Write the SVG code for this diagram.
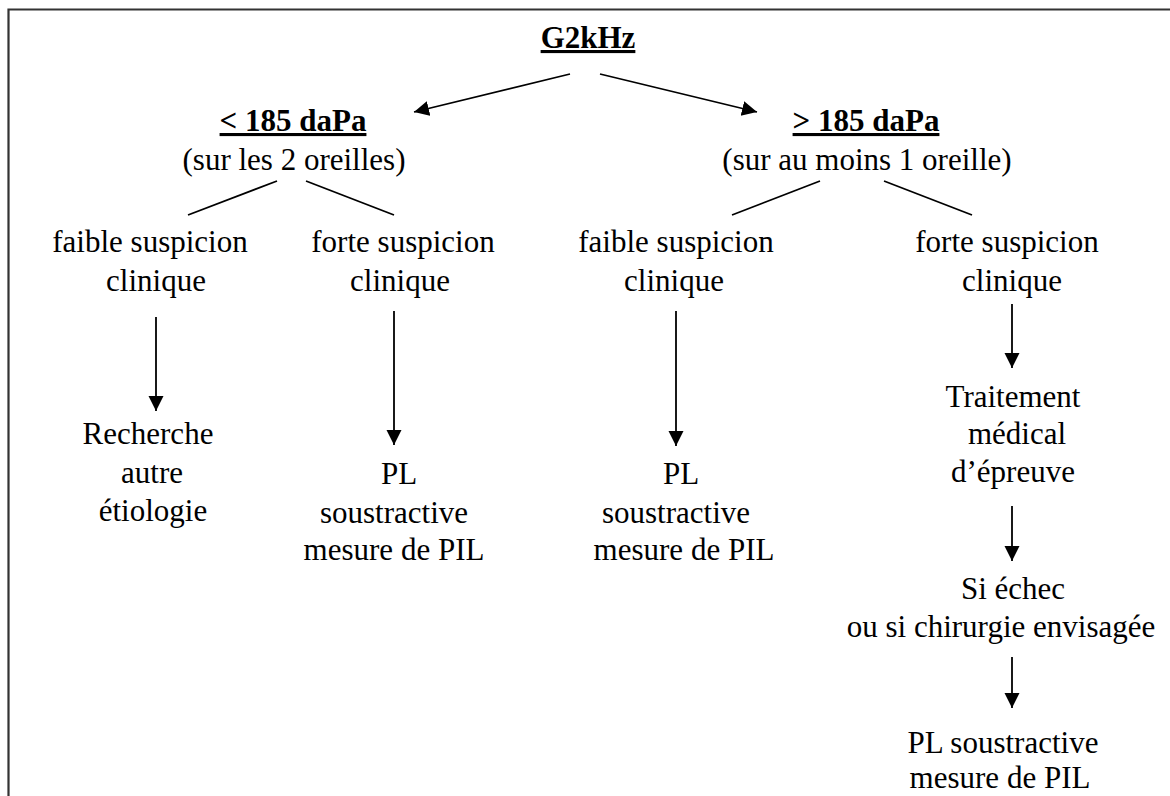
<svg xmlns="http://www.w3.org/2000/svg" width="1170" height="796" viewBox="0 0 1170 796">
<style>
  .t text { font-family: 'Liberation Serif', 'Tinos', 'DejaVu Serif', serif; font-size: 31px; fill: #000; text-anchor: middle; }
  .t .b { font-weight: bold; text-decoration: underline; }
  .c { stroke: #000; stroke-width: 1.8; fill: none; }
  .frame { stroke: #333; stroke-width: 2.2; fill: none; }
</style>
<defs>
  <marker id="ah" markerUnits="userSpaceOnUse" markerWidth="16" markerHeight="16" refX="15" refY="7.5" orient="auto">
    <path d="M0,0 L15,7.5 L0,15 Z" fill="#000"/>
  </marker>
</defs>
<rect width="1170" height="796" fill="#fff"/>
<path class="frame" d="M8.5,800 V9.5 H1172"/>

<g id="connectors">
  <line class="c" x1="570" y1="74" x2="414" y2="112" marker-end="url(#ah)"/>
  <line class="c" x1="600" y1="74" x2="757" y2="112" marker-end="url(#ah)"/>
  <line class="c" x1="277" y1="181" x2="188" y2="215"/>
  <line class="c" x1="306" y1="181" x2="394" y2="215"/>
  <line class="c" x1="820" y1="181" x2="732" y2="215"/>
  <line class="c" x1="884" y1="181" x2="972" y2="215"/>
  <line class="c" x1="156" y1="317" x2="156" y2="411" marker-end="url(#ah)"/>
  <line class="c" x1="394" y1="311" x2="394" y2="445" marker-end="url(#ah)"/>
  <line class="c" x1="676" y1="311" x2="676" y2="446" marker-end="url(#ah)"/>
  <line class="c" x1="1012" y1="304" x2="1012" y2="368" marker-end="url(#ah)"/>
  <line class="c" x1="1012" y1="506" x2="1012" y2="561" marker-end="url(#ah)"/>
  <line class="c" x1="1012" y1="657" x2="1012" y2="708" marker-end="url(#ah)"/>
</g>

<g class="t" font-family="Liberation Serif, DejaVu Serif, serif">
<g id="root"><text class="b" x="588" y="48">G2kHz</text></g>

<g id="low">
  <text class="b" x="293" y="131">&lt; 185 daPa</text>
  <text x="294" y="170">(sur les 2 oreilles)</text>
</g>
<g id="high">
  <text class="b" x="866" y="131">&gt; 185 daPa</text>
  <text x="867" y="170">(sur au moins 1 oreille)</text>
</g>

<g id="low-faible">
  <text x="150" y="252">faible suspicion</text>
  <text x="156" y="291">clinique</text>
</g>
<g id="low-forte">
  <text x="403" y="252">forte suspicion</text>
  <text x="400" y="291">clinique</text>
</g>
<g id="high-faible">
  <text x="676" y="252">faible suspicion</text>
  <text x="674" y="291">clinique</text>
</g>
<g id="high-forte">
  <text x="1007" y="252">forte suspicion</text>
  <text x="1012" y="291">clinique</text>
</g>

<g id="recherche">
  <text x="148" y="444">Recherche</text>
  <text x="152" y="483">autre</text>
  <text x="153" y="521">étiologie</text>
</g>
<g id="pl-left">
  <text x="399" y="484">PL</text>
  <text x="394" y="523">soustractive</text>
  <text x="394" y="560">mesure de PIL</text>
</g>
<g id="pl-mid">
  <text x="681" y="484">PL</text>
  <text x="676" y="523">soustractive</text>
  <text x="684" y="560">mesure de PIL</text>
</g>
<g id="traitement">
  <text x="1013" y="407">Traitement</text>
  <text x="1017" y="444">médical</text>
  <text x="1013" y="482">d’épreuve</text>
</g>
<g id="echec">
  <text x="1013" y="599">Si échec</text>
  <text x="1001" y="637">ou si chirurgie envisagée</text>
</g>
<g id="pl-right">
  <text x="1003" y="753">PL soustractive</text>
  <text x="1000" y="788">mesure de PIL</text>
</g>
</g>
</svg>
